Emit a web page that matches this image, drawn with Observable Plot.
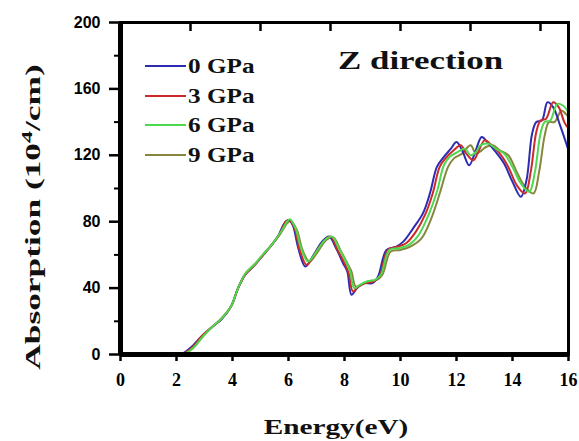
<!DOCTYPE html>
<html><head><meta charset="utf-8">
<script src="https://cdn.jsdelivr.net/npm/d3@7"></script>
<script src="https://cdn.jsdelivr.net/npm/@observablehq/plot@0.6"></script>
<style>
body{margin:0;background:#fff;color:#000}
#wrap{position:relative;width:579px;height:441px;overflow:hidden}
.lab{position:absolute;font-family:"Liberation Serif",serif;font-weight:bold;color:#111;white-space:nowrap}
.sw{position:absolute;height:2px}
</style>
</head><body><div id="wrap"><div id="chart"></div></div>
<script>
const series = ["0 GPa", "3 GPa", "6 GPa", "9 GPa"];
const colors = ["#2b2bb4", "#cc2a2a", "#4ed84e", "#86863c"];
const drawOrder = ["9 GPa", "0 GPa", "3 GPa", "6 GPa"];

const e0 = [0,1,2,2.2,2.5,2.9,3.3,3.6,3.95,4.2,4.45,4.8,5.1,5.4,5.65,5.85,6.0,6.15,6.35,6.6,6.9,7.2,7.45,7.7,7.95,8.1,8.25,8.45,8.7,9.0,9.2,9.5,9.85,10.1,10.45,10.8,11.05,11.3,11.5,11.8,12.0,12.2,12.45,12.65,12.9,13.1,13.4,13.7,14.0,14.3,14.5,14.7,14.85,15.05,15.25,15.45,15.7,16];
const a0 = [0,0,0,0.5,4,11,17,21,29,40,48,54,60,66,72,79,81,78,64,53,60,68,71,64,55,50,36,40,43,43,47,63,65,68,76,85,97,113,118,124,128,123,114,121,131,128,122,115,104,95,105,133,140,141,152,149,138,123];

const e3 = [0,1,2,2.25,2.55,2.9,3.3,3.6,3.95,4.2,4.45,4.8,5.1,5.4,5.7,5.9,6.02,6.2,6.4,6.65,6.95,7.25,7.5,7.75,8.0,8.15,8.3,8.5,8.75,9.05,9.25,9.55,9.9,10.2,10.55,10.9,11.15,11.4,11.6,11.9,12.15,12.35,12.6,12.8,13.0,13.2,13.55,13.85,14.15,14.45,14.65,14.85,15.0,15.2,15.45,15.65,15.85,16];
const a3 = [0,0,0,0.5,4,11,17,21.5,29,40,48,54,60,66,73,80,81,77,63,54,61,68,71,63,55,49,38,41,43,44,47,63,65,67,74,85,97,113,118,123,126,121,117,123,129,127,121,113,102,97,110,134,141,142,152,149,140,136];

const e6 = [0,1,2,2.3,2.6,2.95,3.3,3.6,3.95,4.2,4.45,4.8,5.1,5.4,5.7,5.95,6.05,6.25,6.45,6.7,7.0,7.3,7.55,7.8,8.05,8.2,8.35,8.55,8.8,9.1,9.3,9.6,9.95,10.3,10.65,11.0,11.3,11.55,11.75,12.05,12.3,12.5,12.7,12.85,13.15,13.4,13.7,14.0,14.3,14.6,14.8,15.0,15.15,15.35,15.6,15.8,16];
const a6 = [0,0,0,0.5,4,11,17,21.5,29,40,48.5,54.5,60.5,66,73,80,81.5,76,64,56,62,69,71,64,56,50,40,42,44,45,48,63,64,66,72,84,98,114,119,122,124,120,122,126,127,124,121,113,103,98,110,133,140,141,151,150,146];

const e9 = [0,1,2,2.3,2.6,2.95,3.3,3.6,3.95,4.2,4.45,4.8,5.1,5.4,5.7,5.95,6.08,6.3,6.5,6.75,7.05,7.35,7.6,7.85,8.1,8.25,8.4,8.6,8.85,9.15,9.35,9.65,10.0,10.35,10.75,11.1,11.4,11.7,11.9,12.2,12.5,12.7,12.9,13.05,13.3,13.55,13.85,14.15,14.45,14.75,14.95,15.15,15.3,15.5,15.75,15.9,16];
const a9 = [0,0,0,0.5,4,11,17,21.5,29,40,48.5,54.5,60.5,66,72.5,79,80.5,75,63,56,62,69,70.5,63,55,50,41,42,44,45,48,62,63,65,70,82,97,113,118,121,126,121,123,125,126,123,120,110,101,97,110,132,140,140,147,145,143];

const xTicks = [0, 2, 4, 6, 8, 10, 12, 14, 16];
const xTopTicks = [2.5, 5, 7.5, 10, 12.5, 15];
const yTicks = [0, 40, 80, 120, 160, 200];
const yMinorTicks = [20, 60, 100, 140, 180];

const xLabel = "Energy(eV)";
const yLabelMain = "Absorption (10";
const yLabelSup = "4";
const yLabelEnd = "/cm)";
const panelTitle = "Z direction";

const seriesData = {"0 GPa": [e0, a0], "3 GPa": [e3, a3], "6 GPa": [e6, a6], "9 GPa": [e9, a9]};
const rows = [];
for (const s of drawOrder) {
  const [es, as] = seriesData[s];
  es.forEach((e, i) => rows.push({s, e, a: as[i]}));
}

const K = "black";
const frameH = 441 - 22 - 87;
const chart = Plot.plot({
  width: 579, height: 441,
  marginLeft: 120, marginRight: 11, marginTop: 22, marginBottom: 87,
  x: {domain: [0, 16]}, y: {domain: [0, 200]},
  color: {domain: series, range: colors},
  marks: [
    Plot.line(rows, {x: "e", y: "a", z: "s", stroke: "s", strokeWidth: 2, curve: "catmull-rom"}),
    Plot.axisX({ticks: xTicks, tickSize: 7, tickPadding: 12, stroke: K, strokeWidth: 2.5, label: null, fontSize: 18, fontWeight: "bold", fontFamily: "Liberation Serif", fill: K}),
    Plot.tickX(xTopTicks, {x: d => d, insetBottom: frameH - 9, stroke: K, strokeWidth: 2.5}),
    Plot.axisY({ticks: yMinorTicks, tickSize: 6, stroke: K, strokeWidth: 2, tickFormat: () => "", label: null}),
    Plot.axisY({ticks: yTicks, tickSize: 11, tickPadding: 9, stroke: K, strokeWidth: 2.5, label: null, fontSize: 16, fontWeight: "bold", fontFamily: "Liberation Sans", fill: K}),
    Plot.frame({stroke: K, strokeWidth: 3}),
    Plot.ruleY([0], {stroke: K, strokeWidth: 5}),
    Plot.ruleX([0], {stroke: K, strokeWidth: 5})
  ]
});
document.getElementById("chart").appendChild(chart);

const wrap = document.getElementById("wrap");
// HTML label helper: places text so that its width matches target, anchored left or center
function label(html, size, left, baseline, target, anchor) {
  const d = document.createElement("div");
  d.className = "lab";
  d.style.fontSize = size + "px";
  d.style.lineHeight = size + "px";
  d.innerHTML = html;
  wrap.appendChild(d);
  const w = d.offsetWidth;
  const s = target / w;
  d.style.top = (baseline - 0.84 * size) + "px";
  d.style.left = left + "px";
  d.style.transformOrigin = "0 0";
  d.style.transform = anchor === "middle" ? `scaleX(${s}) translateX(-50%)` : `scaleX(${s})`;
  return d;
}
label(panelTitle, 26, 338, 70, 165, "start");
label(xLabel, 22, 335.5, 434, 145, "middle");

// rotated y label
const yl = document.createElement("div");
yl.className = "lab";
yl.style.fontSize = "22px";
yl.style.lineHeight = "24px";
yl.innerHTML = yLabelMain + '<sup style="font-size:15px;vertical-align:8px;line-height:0">' + yLabelSup + "</sup>" + yLabelEnd;
wrap.appendChild(yl);
const yw = yl.offsetWidth, yh = yl.offsetHeight;
yl.style.left = (33 - yw / 2) + "px";
yl.style.top = (217 - yh / 2) + "px";
yl.style.transformOrigin = "50% 50%";
yl.style.transform = `rotate(-90deg) scaleX(${305 / yw})`;

// legend
series.forEach((s, i) => {
  const y = 66 + i * 29.5;
  const sw = document.createElement("div");
  sw.className = "sw";
  sw.style.left = "145px"; sw.style.width = "41px"; sw.style.top = (y - 1) + "px";
  sw.style.background = colors[i];
  wrap.appendChild(sw);
  label(s, 21, 188, y + 8, 66, "start");
});
</script></body></html>
